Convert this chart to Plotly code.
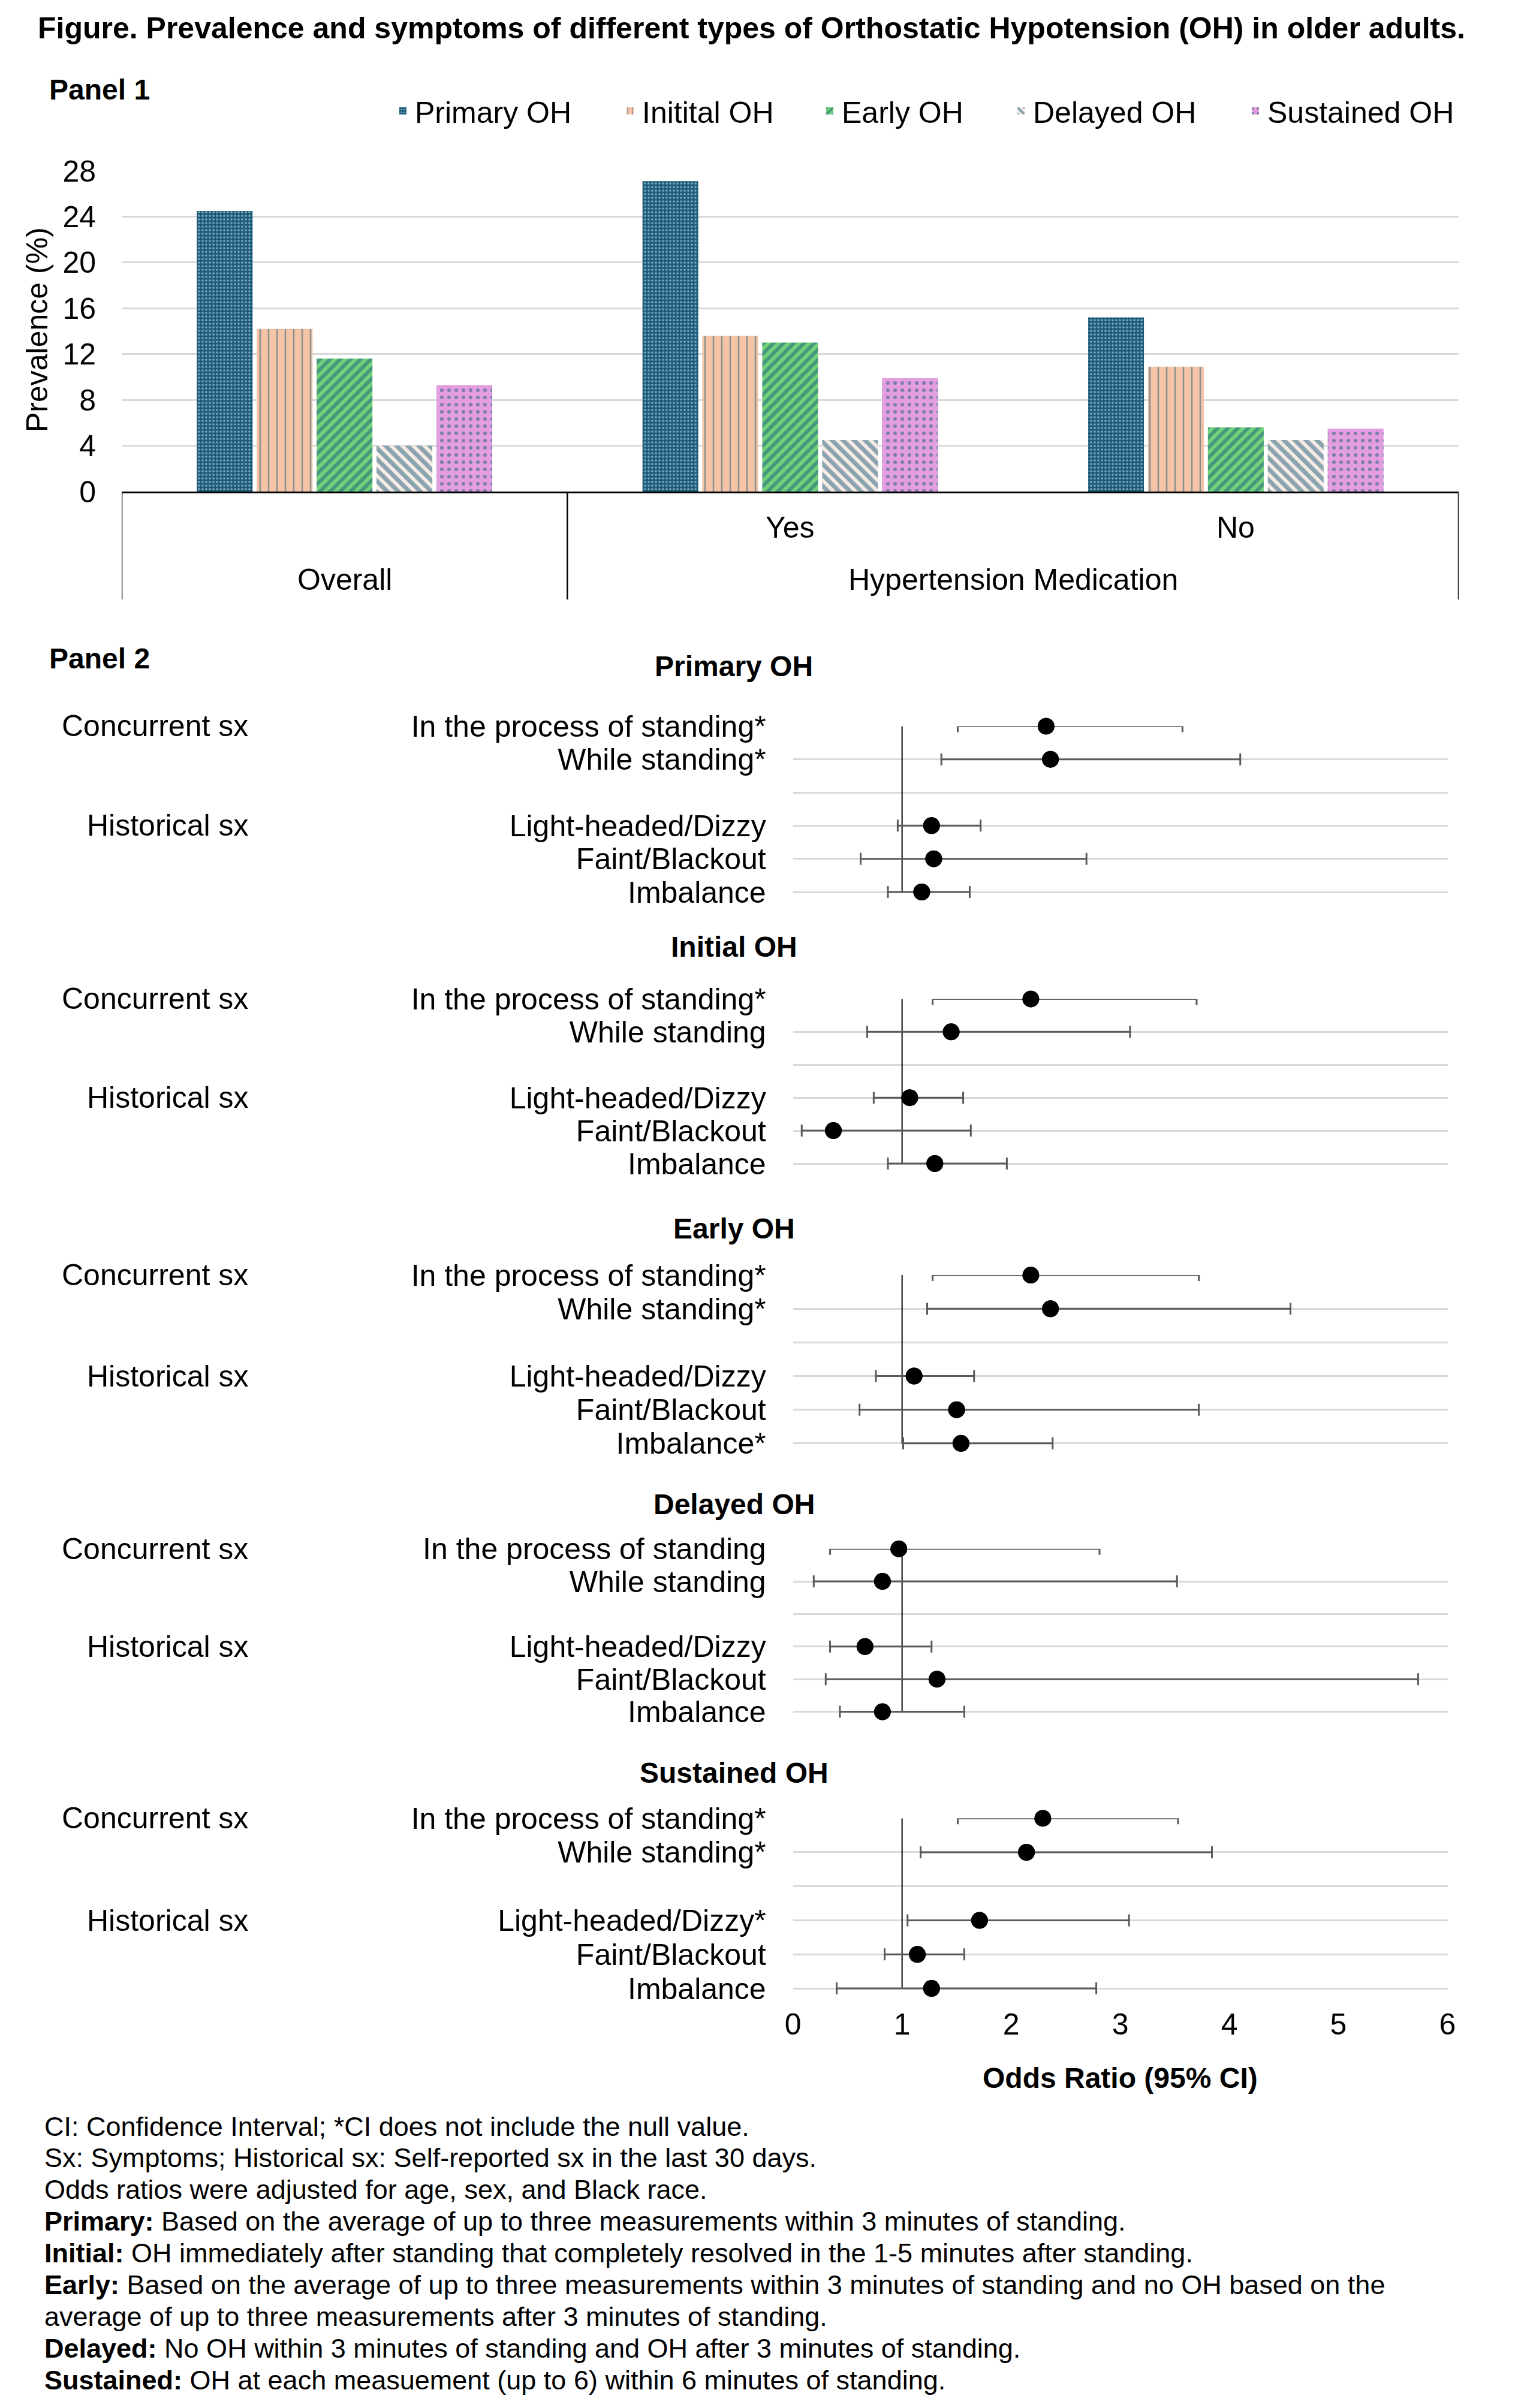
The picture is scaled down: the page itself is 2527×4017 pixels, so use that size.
import plotly.graph_objects as go

W, H = 2527, 4017
FONT = "Liberation Sans, Arial, sans-serif"

# ---------------- data: Panel 1 (prevalence, %) ----------------
groups = ["Overall", "Yes", "No"]
group_header = "Hypertension Medication"
oh_types = ["Primary OH", "Initital OH", "Early OH", "Delayed OH", "Sustained OH"]
prev_primary = [24.5, 27.1, 15.2]
prev_initial = [14.2, 13.6, 10.9]
prev_early = [11.6, 13.0, 5.6]
prev_delayed = [4.0, 4.5, 4.5]
prev_sustained = [9.3, 9.9, 5.5]
prev_ticks = [0, 4, 8, 12, 16, 20, 24, 28]

# ---------------- data: Panel 2 (odds ratios, 95% CI) ----------------
panel_titles = ["Primary OH", "Initial OH", "Early OH", "Delayed OH", "Sustained OH"]
sx_groups = ["Concurrent sx", "Historical sx"]

labels_primary = ["In the process of standing*", "While standing*", "Light-headed/Dizzy", "Faint/Blackout", "Imbalance"]
or_primary = [2.32, 2.36, 1.27, 1.29, 1.18]
lo_primary = [1.51, 1.36, 0.96, 0.62, 0.87]
hi_primary = [3.57, 4.10, 1.72, 2.69, 1.62]

labels_initial = ["In the process of standing*", "While standing", "Light-headed/Dizzy", "Faint/Blackout", "Imbalance"]
or_initial = [2.18, 1.45, 1.07, 0.37, 1.30]
lo_initial = [1.28, 0.68, 0.74, 0.08, 0.87]
hi_initial = [3.70, 3.09, 1.56, 1.63, 1.96]

labels_early = ["In the process of standing*", "While standing*", "Light-headed/Dizzy", "Faint/Blackout", "Imbalance*"]
or_early = [2.18, 2.36, 1.11, 1.50, 1.54]
lo_early = [1.28, 1.23, 0.76, 0.61, 1.01]
hi_early = [3.72, 4.56, 1.66, 3.72, 2.38]

labels_delayed = ["In the process of standing", "While standing", "Light-headed/Dizzy", "Faint/Blackout", "Imbalance"]
or_delayed = [0.97, 0.82, 0.66, 1.32, 0.82]
lo_delayed = [0.34, 0.19, 0.34, 0.30, 0.43]
hi_delayed = [2.81, 3.52, 1.27, 5.73, 1.57]

labels_sustained = ["In the process of standing*", "While standing*", "Light-headed/Dizzy*", "Faint/Blackout", "Imbalance"]
or_sustained = [2.29, 2.14, 1.71, 1.14, 1.27]
lo_sustained = [1.51, 1.17, 1.05, 0.84, 0.40]
hi_sustained = [3.53, 3.84, 3.08, 1.57, 2.78]

or_ticks = [0, 1, 2, 3, 4, 5, 6]
null_value = 1

title_text = "<b>Figure. Prevalence and symptoms of different types of Orthostatic Hypotension (OH) in older adults.</b>"
footnotes = [
    "CI: Confidence Interval; *CI does not include the null value.",
    "Sx: Symptoms; Historical sx: Self-reported sx in the last 30 days.",
    "Odds ratios were adjusted for age, sex, and Black race.",
    "<b>Primary:</b> Based on the average of up to three measurements within 3 minutes of standing.",
    "<b>Initial:</b> OH immediately after standing that completely resolved in the 1-5 minutes after standing.",
    "<b>Early:</b> Based on the average of up to three measurements within 3 minutes of standing and no OH based on the",
    "average of up to three measurements after 3 minutes of standing.",
    "<b>Delayed:</b> No OH within 3 minutes of standing and OH after 3 minutes of standing.",
    "<b>Sustained:</b> OH at each measuement (up to 6) within 6 minutes of standing.",
]

# ---------------- helpers ----------------
def py(y):
    return 1 - y / H


def px(x):
    return x / W


fig = go.Figure()
annotations = []
shapes = []
layout = {}

# ---------------- Panel 1: bars ----------------
TEAL = "#1C5B79"
bar_styles = [
    dict(bg=TEAL, fg="#D8F3FC", shape=".", size=6, solidity=0.3),
    dict(bg="#F5C4A6", fg=TEAL, shape="|", size=14, solidity=0.18),
    dict(bg="#72D27C", fg=TEAL, shape="/", size=12, solidity=0.5),
    dict(bg="#F7EBE5", fg=TEAL, shape="\\", size=13, solidity=0.55),
    dict(bg="#E29EE0", fg=TEAL, shape=".", size=12, solidity=0.2),
]
prev_series = [prev_primary, prev_initial, prev_early, prev_delayed, prev_sustained]
legend_text_x = [697, 1076, 1409, 1728, 2119]

for i, (name, vals, st) in enumerate(zip(oh_types, prev_series, bar_styles)):
    lg = "legend" if i == 0 else f"legend{i + 1}"
    fig.add_trace(go.Bar(
        x=groups, y=vals, name=name, legend=lg,
        marker=dict(color=st["bg"], line=dict(width=0),
                    pattern=dict(shape=st["shape"], fgcolor=st["fg"], bgcolor=st["bg"],
                                 size=st["size"], solidity=st["solidity"], fillmode="overlay")),
        xaxis="x", yaxis="y", hoverinfo="x+y+name",
    ))
    layout[lg] = dict(x=px(legend_text_x[i] - 45), y=py(185), xanchor="left", yanchor="middle",
                      orientation="h", font=dict(size=50, family=FONT, color="black"),
                      bgcolor="rgba(0,0,0,0)", borderwidth=0)

layout["xaxis"] = dict(domain=[px(203), px(2433)], type="category", range=[-0.5, 2.5],
                       showticklabels=False, showline=True, linecolor="black", linewidth=3,
                       ticks="", showgrid=False, zeroline=False, anchor="y", fixedrange=True,
                       automargin=False)
layout["yaxis"] = dict(domain=[py(820), py(285)], range=[0, 28], tickvals=prev_ticks,
                       showgrid=True, gridcolor="#D9D9D9", gridwidth=3, zeroline=False,
                       showline=False, ticks="", ticklabelstandoff=42, automargin=False,
                       tickfont=dict(size=50, family=FONT, color="black"), anchor="x", fixedrange=True)

# category dividers
for xv in [-0.5, 0.5, 2.5]:
    shapes.append(dict(type="line", xref="x", yref="paper", x0=xv, x1=xv, y0=py(820), y1=py(1000),
                       line=dict(color="black", width=2.5)))
# category labels
for g in groups[1:]:
    annotations.append(dict(x=g, xref="x", y=py(880), yref="paper", text=g, showarrow=False,
                            font=dict(size=50, family=FONT, color="black"), xanchor="center", yanchor="middle"))
annotations.append(dict(x=groups[0], xref="x", y=py(967), yref="paper", text=groups[0], showarrow=False,
                        font=dict(size=50, family=FONT, color="black"), xanchor="center", yanchor="middle"))
annotations.append(dict(x=1.5, xref="x", y=py(967), yref="paper", text=group_header, showarrow=False,
                        font=dict(size=50, family=FONT, color="black"), xanchor="center", yanchor="middle"))
# y title
annotations.append(dict(x=px(62), xref="paper", y=py(550), yref="paper", text="Prevalence (%)", textangle=-90,
                        showarrow=False, font=dict(size=50, family=FONT, color="black"),
                        xanchor="center", yanchor="middle"))

# titles
annotations.append(dict(x=px(61), y=py(47), xref="paper", yref="paper", text=title_text, showarrow=False,
                        xanchor="left", yanchor="middle", font=dict(size=50, family=FONT, color="black")))
annotations.append(dict(x=px(80), y=py(150), xref="paper", yref="paper", text="<b>Panel 1</b>", showarrow=False,
                        xanchor="left", yanchor="middle", font=dict(size=48, family=FONT, color="black")))
annotations.append(dict(x=px(80), y=py(1098), xref="paper", yref="paper", text="<b>Panel 2</b>", showarrow=False,
                        xanchor="left", yanchor="middle", font=dict(size=48, family=FONT, color="black")))

# ---------------- Panel 2: forest plots ----------------
forest = [
    (labels_primary, or_primary, lo_primary, hi_primary),
    (labels_initial, or_initial, lo_initial, hi_initial),
    (labels_early, or_early, lo_early, hi_early),
    (labels_delayed, or_delayed, lo_delayed, hi_delayed),
    (labels_sustained, or_sustained, lo_sustained, hi_sustained),
]
rows_px = [(1211.4, 1488.0), (1666.4, 1941.0), (2127.1, 2407.8), (2583.7, 2855.6), (3033.2, 3317.1)]
title_px = [1111, 1580, 2049, 2509, 2957]
row_slots = [0, 1, 3, 4, 5]
pad = 0.45

for k, (labs, ors, los, his) in enumerate(forest):
    ax = k + 2
    r0, r5 = rows_px[k]
    s = (r5 - r0) / 5
    ybot = r5 + pad * s
    last = (k == len(forest) - 1)
    layout[f"xaxis{ax}"] = dict(domain=[px(1322.7), px(2414.5)], range=[0, 6], anchor=f"y{ax}",
                                showgrid=False, zeroline=False, showline=False, ticks="",
                                tickvals=or_ticks, showticklabels=last, ticklabelstandoff=0,
                                automargin=False,
                                tickfont=dict(size=50, family=FONT, color="black"), fixedrange=True)
    ticktext = [labs[0], labs[1], "", labs[2], labs[3], labs[4]]
    layout[f"yaxis{ax}"] = dict(domain=[py(ybot), py(r0)], range=[5 + pad, 0], anchor=f"x{ax}",
                                tickvals=[0, 1, 2, 3, 4, 5], ticktext=ticktext,
                                showgrid=True, gridcolor="#D9D9D9", gridwidth=3, zeroline=False,
                                showline=False, ticks="", ticklabelstandoff=44, automargin=False,
                                tickfont=dict(size=50, family=FONT, color="black"), fixedrange=True)
    err = dict(type="data", symmetric=False,
               array=[h - o for h, o in zip(his, ors)],
               arrayminus=[o - l for o, l in zip(ors, los)],
               color="#595959", thickness=3, width=10)
    fig.add_trace(go.Scatter(x=ors, y=row_slots, mode="markers", marker=dict(size=28, color="black"),
                             error_x=err, cliponaxis=True, showlegend=False,
                             xaxis=f"x{ax}", yaxis=f"y{ax}", hovertext=labs, hoverinfo="x+text"))
    fig.add_trace(go.Scatter(x=ors, y=row_slots, mode="markers", marker=dict(size=28, color="black"),
                             cliponaxis=False, showlegend=False,
                             xaxis=f"x{ax}", yaxis=f"y{ax}", hovertext=labs, hoverinfo="x+text"))
    shapes.append(dict(type="line", xref=f"x{ax}", yref=f"y{ax}", x0=null_value, x1=null_value,
                       y0=row_slots[0], y1=row_slots[-1], line=dict(color="black", width=2), layer="between"))
    annotations.append(dict(x=px(1224), xref="paper", y=py(title_px[k]), yref="paper",
                            text=f"<b>{panel_titles[k]}</b>", showarrow=False, xanchor="center",
                            yanchor="middle", font=dict(size=48, family=FONT, color="black")))
    for gname, slot in zip(sx_groups, [row_slots[0], row_slots[2]]):
        annotations.append(dict(x=px(416), xref="paper", y=slot, yref=f"y{ax}", text=gname,
                                showarrow=False, xanchor="right", yanchor="middle",
                                font=dict(size=50, family=FONT, color="black")))

annotations.append(dict(x=px(1868), xref="paper", y=py(3466), yref="paper", text="<b>Odds Ratio (95% CI)</b>",
                        showarrow=False, xanchor="center", yanchor="middle",
                        font=dict(size=48, family=FONT, color="black")))

# footnotes
for i, line in enumerate(footnotes):
    annotations.append(dict(x=px(72), xref="paper", y=py(3547 + 52.9 * i), yref="paper", text=line,
                            showarrow=False, xanchor="left", yanchor="middle", align="left",
                            font=dict(size=45, family=FONT, color="black")))

fig.update_layout(
    width=W, height=H, autosize=False,
    margin=dict(l=0, r=0, t=0, b=0, pad=0, autoexpand=False),
    paper_bgcolor="white", plot_bgcolor="white",
    font=dict(family=FONT, size=50, color="black"),
    barmode="group", bargap=0.328, bargroupgap=0.068,
    annotations=annotations, shapes=shapes,
    **layout,
)

fig.write_html("out.html", config={"displayModeBar": False, "responsive": False},
               post_script="document.body.style.margin='0';document.body.style.overflow='hidden';")
